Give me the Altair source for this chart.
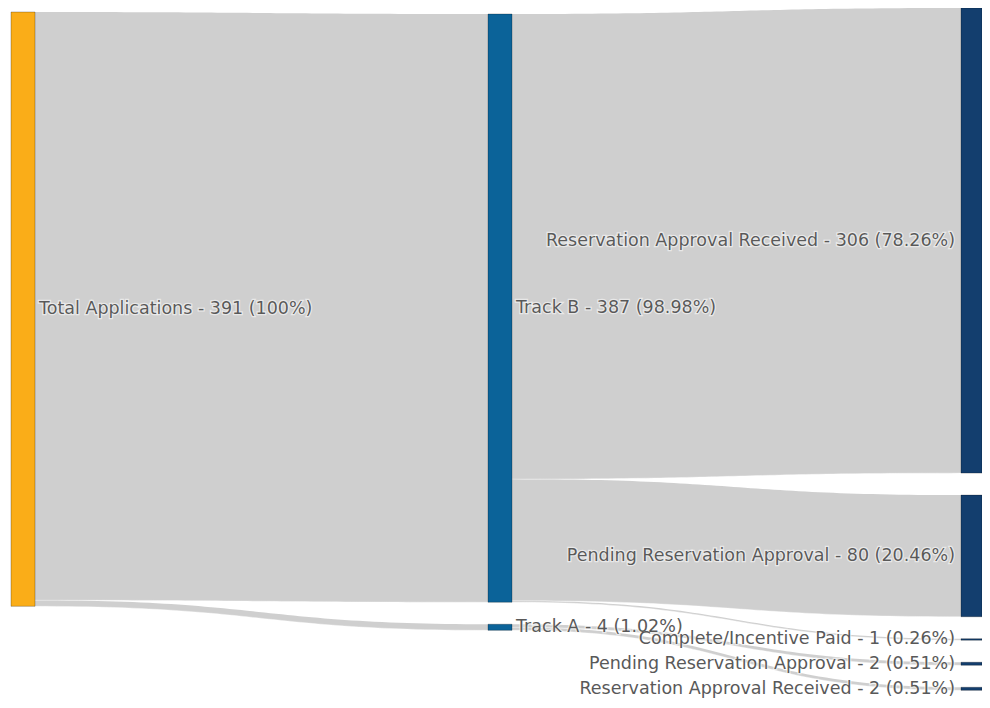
import altair as alt
import pandas as pd
import numpy as np

# ---- data ----
node_names = ["Total Applications", "Track B", "Track A",
              "Reservation Approval Received", "Pending Reservation Approval",
              "Complete/Incentive Paid", "Pending Reservation Approval",
              "Reservation Approval Received"]
node_values = [391, 387, 4, 306, 80, 1, 2, 2]
node_column = [0, 1, 1, 2, 2, 2, 2, 2]

link_source = [0, 0, 1, 1, 1, 2, 2]
link_target = [1, 2, 3, 4, 5, 6, 7]
link_value = [387, 4, 306, 80, 1, 2, 2]

node_colors = ["#FAAD18", "#0B6399", "#0B6399", "#133E6E", "#133E6E", "#133E6E", "#133E6E", "#133E6E"]

# ---- layout (pixels) ----
W, H = 974, 692
k = 1.52                      # px per application
col_x0 = [3, 480, 953]
col_w = [24, 24, 21]
col_top = [4, 6, 0]
col_gap = [0, 22, 22]

total = node_values[0]
n = len(node_names)
y0 = [0.0] * n
y1 = [0.0] * n
cursor = {c: col_top[c] for c in range(3)}
for i in range(n):
    c = node_column[i]
    y0[i] = cursor[c]
    y1[i] = y0[i] + node_values[i] * k
    cursor[c] = y1[i] + col_gap[c]


def pct(v):
    s = f"{v / total * 100:.2f}".rstrip("0").rstrip(".")
    return s + "%"


nodes = pd.DataFrame({
    "name": node_names,
    "value": node_values,
    "col": node_column,
    "x0": [col_x0[c] for c in node_column],
    "x1": [col_x0[c] + col_w[c] for c in node_column],
    "y0": y0,
    "y1": y1,
    "color": node_colors,
})
nodes["ym"] = (nodes["y0"] + nodes["y1"]) / 2
nodes["label"] = [f"{nm} - {v} ({pct(v)})" for nm, v in zip(node_names, node_values)]
nodes["lx"] = np.where(nodes["col"] < 2, nodes["x1"] + 4, nodes["x0"] - 6)

# link bands
src_off = {i: y0[i] for i in range(n)}
tgt_off = {i: y0[i] for i in range(n)}
rows = []
ts = np.linspace(0, 1, 60)
for li, (s, t, v) in enumerate(zip(link_source, link_target, link_value)):
    h = v * k
    sy0 = src_off[s]; src_off[s] += h
    ty0 = tgt_off[t]; tgt_off[t] += h
    xa = col_x0[node_column[s]] + col_w[node_column[s]]
    xb = col_x0[node_column[t]]
    xm = (xa + xb) / 2
    for tt in ts:
        a = (1 - tt) ** 3
        b = 3 * (1 - tt) ** 2 * tt
        c = 3 * (1 - tt) * tt ** 2
        d = tt ** 3
        x = a * xa + (b + c) * xm + d * xb
        yt = (a + b) * sy0 + (c + d) * ty0
        rows.append({"link": li, "x": round(x, 3), "ytop": round(yt, 3), "ybot": round(yt + h, 3)})
links = pd.DataFrame(rows)

xs = alt.Scale(domain=[0, W], nice=False, zero=False)
ys = alt.Scale(domain=[0, H], nice=False, zero=False, reverse=True)

link_layer = alt.Chart(links).mark_area(
    color="#CACACA", fillOpacity=0.9, interpolate="linear"
).encode(
    x=alt.X("x:Q", scale=xs, axis=None),
    y=alt.Y("ytop:Q", scale=ys, axis=None),
    y2="ybot:Q",
    detail="link:N",
)

link_edge = alt.Chart(links).mark_line(color="#ffffff", strokeWidth=0.6, opacity=0.6).encode(
    x=alt.X("x:Q", scale=xs, axis=None),
    y=alt.Y("ybot:Q", scale=ys, axis=None),
    detail="link:N",
)

node_layer = alt.Chart(nodes).mark_rect(stroke="#000000", strokeOpacity=0.25, strokeWidth=1).encode(
    x=alt.X("x0:Q", scale=xs, axis=None),
    x2="x1:Q",
    y=alt.Y("y0:Q", scale=ys, axis=None),
    y2="y1:Q",
    color=alt.Color("color:N", scale=None),
)

text_style = dict(font="DejaVu Sans", fontSize=17.5, baseline="middle")


def labels(filt, align, halo):
    extra = dict(stroke="#ffffff", strokeWidth=2.5, strokeOpacity=0.55, color="#ffffff") if halo else dict(color="#595959")
    return alt.Chart(nodes).transform_filter(filt).mark_text(align=align, **text_style, **extra).encode(
        x=alt.X("lx:Q", scale=xs, axis=None),
        y=alt.Y("ym:Q", scale=ys, axis=None),
        text="label:N",
    )


chart = alt.layer(
    link_layer, link_edge, node_layer,
    labels("datum.col < 2", "left", True), labels("datum.col == 2", "right", True),
    labels("datum.col < 2", "left", False), labels("datum.col == 2", "right", False),
).properties(
    width=W, height=H, padding=0, background="#ffffff",
    autosize=alt.AutoSizeParams(type="none")
).configure_view(strokeWidth=0, stroke="transparent")

chart.save("out.html", embed_options={"renderer": "svg", "actions": False})
